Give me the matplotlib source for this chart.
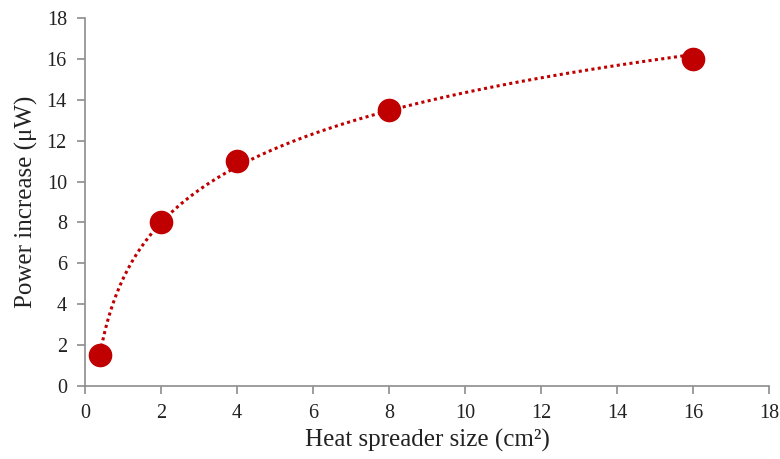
import numpy as np
import matplotlib.pyplot as plt

plt.rcParams['font.family'] = ['Liberation Serif', 'DejaVu Serif']

size = [0.4, 2, 4, 8, 16]
power = [1.5, 8, 11, 13.5, 16]

red = '#C00000'
grey = '#8c8c8c'

fig = plt.figure(figsize=(7.8, 4.59), dpi=100)
ax = fig.add_axes([0.109, 0.159, 0.877, 0.802])

# logarithmic trendline (least squares on ln x), like the spreadsheet one
a, b = np.polyfit(np.log(size), power, 1)
xs = np.linspace(min(size), max(size), 300)
ax.plot(xs, a * np.log(xs) + b, color=red, lw=2.2, ls=(0, (1, 1.1)), zorder=2)

ax.plot(size, power, 'o', color=red, ms=16, zorder=3)

ax.set_xlim(0, 18)
ax.set_ylim(0, 18)
ax.set_xticks(range(0, 19, 2))
ax.set_yticks(range(0, 19, 2))

for s in ['top', 'right']:
    ax.spines[s].set_visible(False)
for s in ['left', 'bottom']:
    ax.spines[s].set_color(grey)
    ax.spines[s].set_linewidth(1.2)
ax.tick_params(direction='out', length=6, width=1.2, color=grey,
               labelsize=14.5, labelcolor='#222222', pad=7)

ax.set_xlabel('Heat spreader size (cm\u00b2)', fontsize=18, color='#222222', labelpad=4)
ax.set_ylabel('Power increase (\u03bcW)', fontsize=18, color='#222222', labelpad=6)

fig.savefig('out.png', dpi=100)
